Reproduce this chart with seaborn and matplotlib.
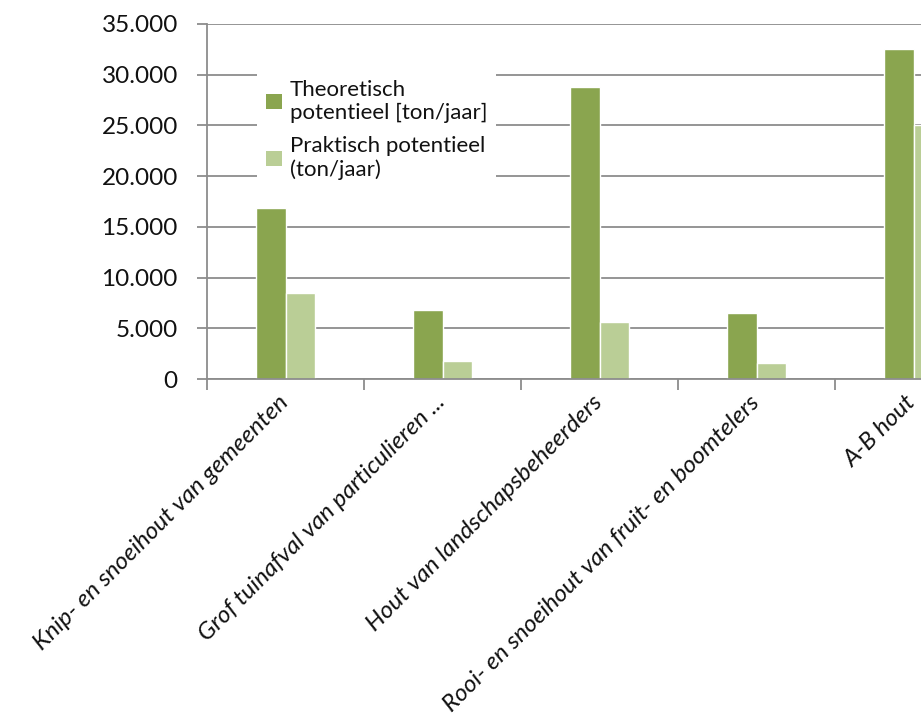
import textwrap
import matplotlib
matplotlib.use("Agg")
import matplotlib.pyplot as plt
import matplotlib.ticker as mticker
import matplotlib.transforms as mtransforms
from matplotlib.patches import Patch
import seaborn as sns
import pandas as pd

categories = [
    "Knip- en snoeihout van gemeenten",
    "Grof tuinafval van particulieren ...",
    "Hout van landschapsbeheerders",
    "Rooi- en snoeihout van fruit- en boomtelers",
    "A-B hout",
]
series_names = ["Theoretisch potentieel [ton/jaar]", "Praktisch potentieel (ton/jaar)"]
theoretisch = [16900, 6800, 28800, 6500, 32500]
praktisch = [8500, 1800, 5600, 1600, 25000]
y_ticks = [0, 5000, 10000, 15000, 20000, 25000, 30000, 35000]

colors = ["#8AA54F", "#BACE96"]

df = pd.DataFrame({
    "categorie": categories * 2,
    "serie": [series_names[0]] * len(categories) + [series_names[1]] * len(categories),
    "waarde": theoretisch + praktisch,
})

sns.set_style("white")
plt.rcParams["font.family"] = ["Lato", "DejaVu Sans"]

fig = plt.figure(figsize=(9.21, 7.15), dpi=100)
ax = fig.add_axes([207 / 921, 336 / 715, 785 / 921, 355 / 715])

sns.barplot(data=df, x="categorie", y="waarde", hue="serie", order=categories,
            hue_order=series_names, palette=colors, width=0.37, saturation=1,
            ax=ax, legend=False)

ax.set_xlim(-0.5, len(categories) - 0.5)
ax.set_ylim(0, 35000)
ax.set_yticks(y_ticks)
ax.yaxis.set_major_formatter(mticker.FuncFormatter(lambda v, p: f"{int(v):,}".replace(",", ".")))
ax.set_xlabel("")
ax.set_ylabel("")

grid_col = "#8C8C8C"
txt_col = "#111111"
ax.set_axisbelow(True)
ax.yaxis.grid(True, color=grid_col, linewidth=1.3)
ax.xaxis.grid(False)
for s in ["top", "right"]:
    ax.spines[s].set_visible(False)
for s in ["left", "bottom"]:
    ax.spines[s].set_color(grid_col)
    ax.spines[s].set_linewidth(1.3)

ax.tick_params(axis="y", length=7, width=1.3, color=grid_col, pad=14, labelsize=17.5,
               labelcolor=txt_col, left=True)
ax.set_xticks(range(len(categories)))
ax.set_xticklabels(categories, rotation=45, ha="right", rotation_mode="anchor",
                   fontsize=17.5, style="italic", color=txt_col)
ax.tick_params(axis="x", which="major", length=0, pad=9)
shift = mtransforms.ScaledTranslation(-8 / 100, 0, fig.dpi_scale_trans)
for lbl in ax.get_xticklabels():
    lbl.set_transform(lbl.get_transform() + shift)
ax.set_xticks([i - 0.5 for i in range(len(categories) + 1)], minor=True)
ax.tick_params(axis="x", which="minor", length=8, width=1.3, color=grid_col, bottom=True)

handles = [Patch(facecolor=c, edgecolor="none") for c in colors]
labels = [textwrap.fill(n, 21) for n in series_names]
leg = ax.legend(handles, labels, loc="upper left", bbox_to_anchor=(0.05, 0.9),
                frameon=True, fancybox=False, fontsize=16, handlelength=0.7,
                handleheight=0.7, handletextpad=0.35, labelspacing=0.6,
                borderpad=0.4)
leg.get_frame().set_facecolor("white")
leg.get_frame().set_edgecolor("none")
leg.get_frame().set_alpha(1)
for t in leg.get_texts():
    t.set_color(txt_col)

fig.savefig("out.png", dpi=100)
